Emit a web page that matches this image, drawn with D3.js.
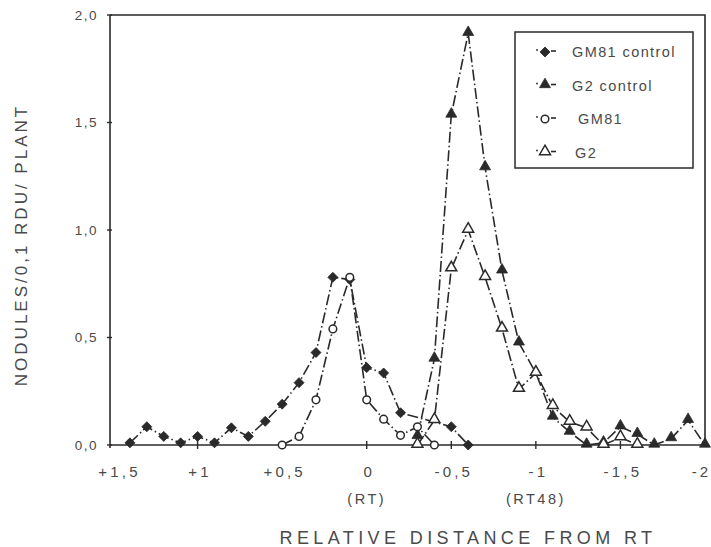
<!DOCTYPE html>
<html>
<head>
<meta charset="utf-8">
<script src="https://cdn.jsdelivr.net/npm/d3@7"></script>
<style>
  html, body { margin: 0; padding: 0; background: #fff; }
  svg { display: block; }
  text { font-family: "Liberation Sans", Arial, sans-serif; fill: #4a4a4a; }
</style>
</head>
<body>
<svg id="chart" width="711" height="547"></svg>
<script>
// ---- data ----
const gm81ControlX = [1.4, 1.3, 1.2, 1.1, 1.0, 0.9, 0.8, 0.7, 0.6, 0.5, 0.4, 0.3, 0.2, 0.1, 0.0, -0.1, -0.2, -0.5, -0.6];
const gm81ControlY = [0.01, 0.085, 0.04, 0.01, 0.04, 0.01, 0.08, 0.04, 0.11, 0.19, 0.29, 0.43, 0.78, 0.77, 0.36, 0.335, 0.15, 0.085, 0.0];

const g2ControlX = [-0.3, -0.4, -0.5, -0.6, -0.7, -0.8, -0.9, -1.0, -1.1, -1.2, -1.3, -1.4, -1.5, -1.6, -1.7, -1.8, -1.9, -2.0];
const g2ControlY = [0.04, 0.40, 1.535, 1.915, 1.29, 0.81, 0.475, 0.335, 0.13, 0.06, 0.0, 0.01, 0.085, 0.05, 0.0, 0.03, 0.115, 0.0];

const gm81X = [0.5, 0.4, 0.3, 0.2, 0.1, 0.0, -0.1, -0.2, -0.3, -0.4];
const gm81Y = [0.0, 0.04, 0.21, 0.54, 0.78, 0.21, 0.12, 0.045, 0.085, 0.0];

const g2X = [-0.3, -0.4, -0.5, -0.6, -0.7, -0.8, -0.9, -1.0, -1.1, -1.2, -1.3, -1.4, -1.5, -1.6];
const g2Y = [0.0, 0.115, 0.82, 1.0, 0.78, 0.54, 0.26, 0.335, 0.18, 0.107, 0.08, 0.0, 0.035, 0.0];

const xTicks = [1.5, 1, 0.5, 0, -0.5, -1, -1.5, -2];
const xTickLabels = ["+1,5", "+1", "+0,5", "0", "-0,5", "-1", "-1,5", "-2"];
const yTicks = [0, 0.5, 1, 1.5, 2];
const yTickLabels = ["0,0", "0,5", "1,0", "1,5", "2,0"];
const subLabels = [{x: 0, t: "(RT)"}, {x: -1, t: "(RT48)"}];
const legendNames = ["GM81 control", "G2 control", "GM81", "G2"];

// ---- layout ----
const svg = d3.select("#chart");
const pLeft = 110, pRight = 705, pTop = 15, pBottom = 445;
const x = d3.scaleLinear().domain([1.5, -2]).range([113, 705]);
const y = d3.scaleLinear().domain([0, 2]).range([pBottom, pTop]);
const ink = "#2a2a2a";

// frame (top and right)
svg.append("path")
  .attr("d", `M${pLeft},${pTop}H${pRight}V${pBottom}`)
  .attr("fill", "none").attr("stroke", ink).attr("stroke-width", 1.6);

// y axis
const yAxis = d3.axisLeft(y).tickValues(yTicks)
  .tickFormat((d, i) => yTickLabels[i]).tickSize(0).tickPadding(12);
const gy = svg.append("g").attr("transform", `translate(${pLeft},0)`).call(yAxis);
gy.select(".domain").remove();
gy.selectAll("text").style("font-size", "13.5px").style("letter-spacing", "1.5px").attr("fill", "#4a4a4a");
svg.append("line").attr("x1", pLeft).attr("x2", pLeft).attr("y1", pTop).attr("y2", pBottom + 3)
  .attr("stroke", ink).attr("stroke-width", 1.6);
svg.append("g").selectAll("line").data(yTicks).join("line")
  .attr("x1", pLeft - 3).attr("x2", pLeft + 2)
  .attr("y1", d => y(d)).attr("y2", d => y(d))
  .attr("stroke", ink).attr("stroke-width", 1.4);

// x axis at y = 0
const xAxis = d3.axisBottom(x).tickValues(xTicks)
  .tickFormat((d, i) => xTickLabels[i]).tickSize(0).tickPadding(21);
const gx = svg.append("g").attr("transform", `translate(0,${y(0)})`).call(xAxis);
gx.select(".domain").remove();
gx.selectAll("text").style("font-size", "15px").style("letter-spacing", "3.2px").attr("fill", "#4a4a4a")
  .attr("dx", d => d === -2 ? -4 : (d === 1.5 ? 6 : 2));
svg.append("line").attr("x1", pLeft).attr("x2", pRight).attr("y1", y(0)).attr("y2", y(0))
  .attr("stroke", ink).attr("stroke-width", 1.6);
svg.append("g").selectAll("line").data(xTicks.slice(1, -1)).join("line")
  .attr("x1", d => x(d)).attr("x2", d => x(d))
  .attr("y1", y(0) - 4).attr("y2", y(0) + 4)
  .attr("stroke", ink).attr("stroke-width", 1.4);

// sub labels
svg.append("g").selectAll("text").data(subLabels).join("text")
  .attr("x", d => x(d.x)).attr("y", 504)
  .attr("text-anchor", "middle")
  .style("font-size", "14.5px").style("letter-spacing", "2.5px")
  .text(d => d.t);

// axis titles
svg.append("text").attr("x", 468).attr("y", 544).attr("text-anchor", "middle")
  .style("font-size", "18px").style("letter-spacing", "4.4px")
  .text("RELATIVE DISTANCE FROM RT");
svg.append("text").attr("transform", "translate(27,245) rotate(-90)")
  .attr("text-anchor", "middle")
  .style("font-size", "17px").style("letter-spacing", "3px")
  .text("NODULES/0,1 RDU/ PLANT");

// ---- series ----
const line = d3.line().x(d => x(d[0])).y(d => y(d[1]));
const series = [
  {xs: gm81ControlX, ys: gm81ControlY, shape: "diamond", filled: true},
  {xs: g2ControlX, ys: g2ControlY, shape: "triangle", filled: true},
  {xs: gm81X, ys: gm81Y, shape: "circle", filled: false},
  {xs: g2X, ys: g2Y, shape: "triangle", filled: false}
];
const dash = "11,3,1.5,3";

function symbolPath(shape) {
  if (shape === "diamond") return d3.symbol(d3.symbolSquare, 50)();
  if (shape === "triangle") return d3.symbol(d3.symbolTriangle, 52)();
  return d3.symbol(d3.symbolCircle, 46)();
}
function drawMarker(g, shape, filled, px, py) {
  const p = g.append("path").attr("d", symbolPath(shape))
    .attr("transform", `translate(${px},${py})` + (shape === "diamond" ? " rotate(45)" : "") + (shape === "triangle" ? " translate(0,-1)" : ""));
  if (filled) p.attr("fill", ink).attr("stroke", ink).attr("stroke-width", 0.8);
  else p.attr("fill", "#fff").attr("stroke", ink).attr("stroke-width", 1.5);
}

series.forEach(s => {
  const pts = s.xs.map((v, i) => [v, s.ys[i]]);
  svg.append("path").datum(pts).attr("d", line)
    .attr("fill", "none").attr("stroke", ink).attr("stroke-width", 1.6)
    .attr("stroke-dasharray", dash);
});
series.forEach(s => {
  const g = svg.append("g");
  s.xs.forEach((v, i) => drawMarker(g, s.shape, s.filled, x(v), y(s.ys[i])));
});

// ---- legend ----
const lg = svg.append("g");
lg.append("rect").attr("x", 515).attr("y", 32).attr("width", 178).attr("height", 136)
  .attr("fill", "#fff").attr("stroke", ink).attr("stroke-width", 1.5);
const textX = [572, 572, 578, 575];
series.forEach((s, i) => {
  const ry = 52 + i * 33.5;
  lg.append("circle").attr("cx", 537).attr("cy", ry - 2).attr("r", 0.9).attr("fill", ink);
  lg.append("line").attr("x1", 551).attr("x2", 556).attr("y1", ry - 1).attr("y2", ry - 1)
    .attr("stroke", ink).attr("stroke-width", 1.6);
  drawMarker(lg, s.shape, s.filled, 545, ry);
  lg.append("text").attr("x", textX[i]).attr("y", ry + 5)
    .style("font-size", "14.5px").style("letter-spacing", "1.4px")
    .text(legendNames[i]);
});
</script>
</body>
</html>
